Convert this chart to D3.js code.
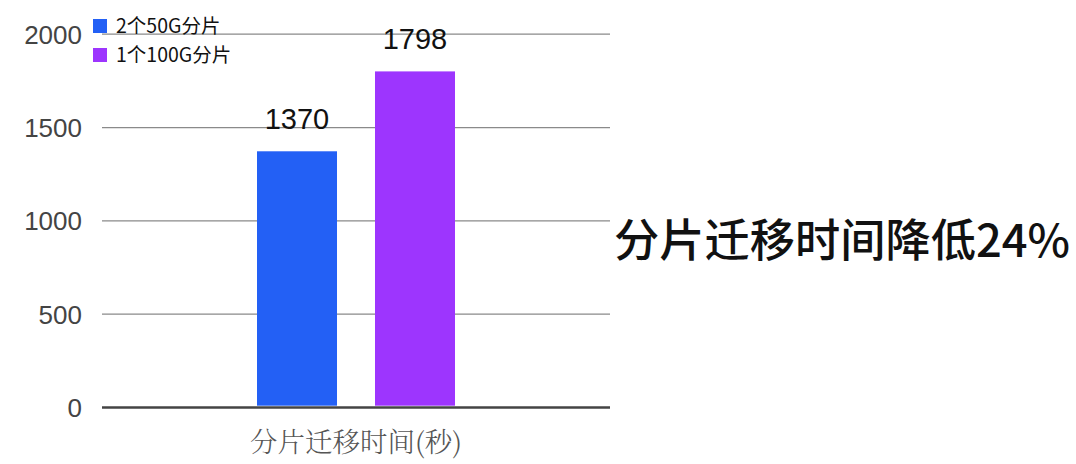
<!DOCTYPE html>
<html><head><meta charset="utf-8">
<script src="https://cdn.jsdelivr.net/npm/d3@7/dist/d3.min.js"></script>
<style>body{margin:0;background:#fff;}svg{display:block;}</style>
</head><body>
<svg id="c" width="1076" height="464"></svg>
<script>
const categories = ["分片迁移时间(秒)"];
const seriesNames = ["2个50G分片", "1个100G分片"];
const seriesValues = [1370, 1798];
const seriesColors = ["#2360f5", "#9d35fe"];
const yTicks = [0, 500, 1000, 1500, 2000];
const annotation = "分片迁移时间降低24%";

(function () {
const svg = d3.select("#c");
const font = "'Noto Sans CJK SC','Noto Sans',sans-serif";
const numFont = "'Liberation Sans','Noto Sans',sans-serif";
const mLeft = 102, mRight = 610, mTop = 33.7, mBottom = 407;

function fit(sel, w, base) {
  let fs = base;
  sel.style("font-size", fs + "px");
  const len = sel.node().getComputedTextLength();
  if (len > 0) { fs = base * w / len; sel.style("font-size", fs + "px"); }
}

const y = d3.scaleLinear().domain([0, 2000]).range([mBottom, mTop]);
const x0 = d3.scaleBand().domain(categories).range([mLeft, mRight]);
const x1 = d3.scaleBand().domain(seriesNames).range([257, 455]).paddingInner(0.322);

// gridlines
const yAxis = d3.axisLeft(y).tickValues(yTicks).tickFormat(d3.format("d")).tickSize(-(mRight - mLeft)).tickPadding(20);
const gy = svg.append("g").attr("transform", `translate(${mLeft},0)`).call(yAxis);
gy.select(".domain").remove();
gy.selectAll(".tick line").attr("stroke", "#8a8a8a").attr("stroke-width", 1.3);
gy.selectAll(".tick text").attr("fill", "#444").style("font-family", numFont).style("font-size", "26px").attr("dy", "0.36em");
gy.selectAll(".tick").filter(d => d === 0).select("line").attr("stroke", "#444").attr("stroke-width", 2.6);

// bars
svg.selectAll("rect.bar").data(seriesValues).enter().append("rect")
  .attr("class", "bar")
  .attr("x", (d, i) => x1(seriesNames[i]))
  .attr("width", x1.bandwidth())
  .attr("y", d => y(d))
  .attr("height", d => y(0) - y(d) - 1.3)
  .attr("fill", (d, i) => seriesColors[i]);

// value labels
svg.selectAll("text.val").data(seriesValues).enter().append("text")
  .attr("class", "val")
  .attr("x", (d, i) => x1(seriesNames[i]) + x1.bandwidth() / 2)
  .attr("y", d => y(d) - 22)
  .attr("text-anchor", "middle")
  .style("font-family", numFont).style("font-size", "29px").attr("fill", "#111")
  .text(d => d);

// x category label
const cat = svg.append("text")
  .attr("x", x0(categories[0]) + x0.bandwidth() / 2)
  .attr("y", 452)
  .attr("text-anchor", "middle")
  .style("font-family", "'Noto Serif CJK SC','Noto Sans CJK SC',serif")
  .style("font-weight", 300).attr("fill", "#555")
  .text(categories[0]);
fit(cat, 212, 24);

// legend
const lg = svg.selectAll("g.lg").data(seriesNames).enter().append("g")
  .attr("class", "lg")
  .attr("transform", (d, i) => `translate(93,${19 + i * 29})`);
lg.append("rect").attr("width", 14).attr("height", 14).attr("fill", (d, i) => seriesColors[i]);
lg.append("text").attr("x", 23).attr("y", 14).style("font-family", font).style("font-size", "19.5px").attr("fill", "#111").text(d => d);

// annotation
const ann = svg.append("text").attr("x", 614).attr("y", 257)
  .style("font-family", font).style("font-weight", 500).attr("fill", "#111")
  .text(annotation);
fit(ann, 456, 44);
})();
</script>
</body></html>
